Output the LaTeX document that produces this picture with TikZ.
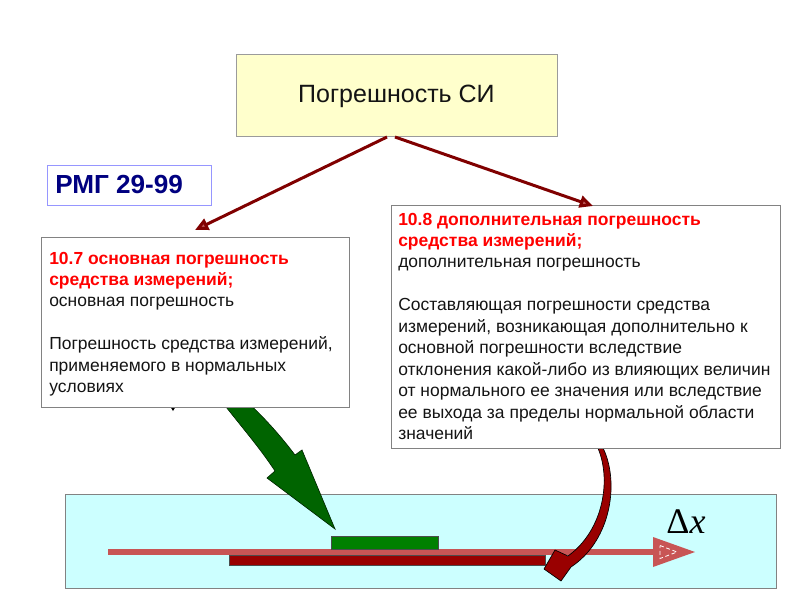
\documentclass[tikz,border=0pt]{standalone}
\usepackage{fontspec}
\setmainfont{Liberation Sans}
\newfontfamily\dxfont{Liberation Serif}
\usetikzlibrary{arrows.meta}
\definecolor{boxgray}{RGB}{130,130,130}
\definecolor{topfill}{RGB}{255,255,204}
\definecolor{navytext}{RGB}{0,0,128}
\definecolor{rmgborder}{RGB}{150,150,255}
\definecolor{dred}{RGB}{128,0,0}
\definecolor{headfill}{RGB}{190,90,90}
\definecolor{cyanfill}{RGB}{204,255,255}
\definecolor{axisred}{RGB}{200,85,85}
\definecolor{barred}{RGB}{153,0,0}
\definecolor{bargreen}{RGB}{0,128,0}
\definecolor{arrgreen}{RGB}{0,100,0}
\definecolor{txt}{RGB}{20,20,20}
\newcommand{\boxfont}{\fontsize{13.1}{16.1}\selectfont}
\newcommand{\redhead}[1]{\textcolor{red}{\bfseries #1}}
\tikzset{
  panel/.style={draw=boxgray, line width=0.75pt, fill=white, inner sep=0pt},
  conn/.style={draw=dred, line width=2.25pt, -{Triangle[length=10pt,width=9pt,fill=headfill]}},
  bodytext/.style={anchor=base west, inner sep=0pt, text=txt, font=\boxfont},
}
\begin{document}
\begin{tikzpicture}[x=0.75pt,y=-0.75pt]
\useasboundingbox (0,0) rectangle (800,600);

% bottom panel
\node[draw=boxgray, line width=0.75pt, fill=cyanfill, inner sep=0pt,
      minimum width=533.25pt, minimum height=70.5pt] (scale) at (420.5,541.5) {};

% axis
\coordinate (axs) at (108,552);
\coordinate (axe) at (655,552);
\draw[axisred, line width=4.5pt] (axs) -- (axe);
\fill[axisred] (653,537) -- (695,552) -- (653,567) -- cycle;
\draw[white, line width=0.6pt, densely dashed] (660,545.5) -- (677,552) -- (660,558.5) -- cycle;
\node[inner sep=0pt, font=\dxfont\fontsize{27}{27}\selectfont] (dx) at (686,522) {Δ\textit{x}};

% bars
\node[fill=barred, draw=black!70, line width=0.4pt, inner sep=0pt,
      minimum width=237pt, minimum height=7.5pt] (redbar) at (387,560) {};
\node[fill=bargreen, draw=black!70, line width=0.4pt, inner sep=0pt,
      minimum width=80.25pt, minimum height=9.75pt] (greenbar) at (384.5,542.5) {};

% green block arrow
\filldraw[fill=arrgreen, draw=black!60!arrgreen, line width=0.5pt]
  (219,398) .. controls (240,425) and (260,448) .. (275,471) -- (267,478) -- (335,529)
  -- (302,450) -- (295,455) .. controls (280,435) and (262,415) .. (243,398) -- cycle;

% curved dark red arrow
\filldraw[fill=barred, draw=black, line width=0.5pt]
  (597,446) .. controls (612,478) and (604,530) .. (568,556) -- (555,550) -- (544,569)
  -- (561,581) -- (571,567) .. controls (612,540) and (620,480) .. (602,446) -- cycle;

% small black mark under left panel
\fill[black] (170,406) -- (176,406) -- (173,411) -- cycle;

% top box
\node[draw=boxgray!80, line width=0.75pt, fill=topfill, inner sep=0pt,
      minimum width=240.75pt, minimum height=61.5pt] (top) at (396.5,95) {};
\node[inner sep=0pt, text=txt, font=\fontsize{18.75}{20}\selectfont] (toptext) at (396.5,96) {Погрешность СИ};

% RMG box
\node[draw=rmgborder, line width=0.75pt, fill=white, inner sep=0pt,
      minimum width=123pt, minimum height=30pt] (rmg) at (129,185) {};
\node[anchor=base west, inner sep=0pt, text=navytext, font=\bfseries\fontsize{19.6}{20}\selectfont] (rmgtext) at (55,193) {РМГ 29-99};

% left panel
\node[panel, minimum width=231pt, minimum height=127.5pt] (lbox) at (195,322) {};
\node[bodytext] (ltext) at (49,264) {\parbox[t]{300pt}{\boxfont\leavevmode
\redhead{10.7 основная погрешность}\\
\redhead{средства измерений;}\\
основная погрешность\\
\mbox{}\\
Погрешность средства измерений,\\
применяемого в нормальных\\
условиях}};

% right panel
\node[panel, minimum width=291.75pt, minimum height=182.25pt] (rbox) at (585.5,326.5) {};
\node[bodytext] (rtext) at (398,225) {\parbox[t]{300pt}{\boxfont\leavevmode
\redhead{10.8 дополнительная погрешность}\\
\redhead{средства измерений;}\\
дополнительная погрешность\\
\mbox{}\\
Составляющая погрешности средства\\
измерений, возникающая дополнительно к\\
основной погрешности вследствие\\
отклонения какой-либо из влияющих величин\\
от нормального ее значения или вследствие\\
ее выхода за пределы нормальной области\\
значений}};

% connectors
\coordinate (ls) at (387,137);
\coordinate (rs) at (395,137);
\coordinate (le) at (195,230);
\coordinate (re) at (593,206);
\draw[conn] (ls) -- (le);
\draw[conn] (rs) -- (re);
\end{tikzpicture}
\end{document}
